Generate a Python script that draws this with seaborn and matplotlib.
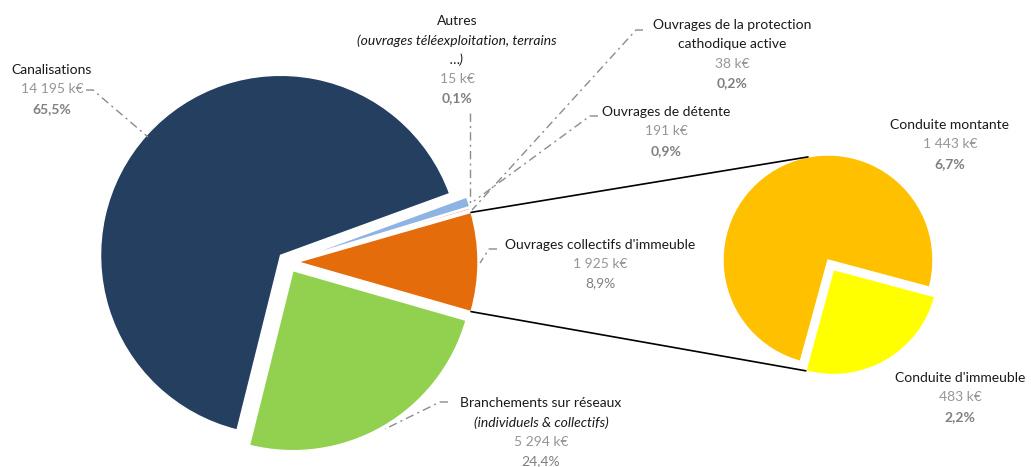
import numpy as np
import matplotlib
matplotlib.use("Agg")
import matplotlib.pyplot as plt
import seaborn as sns

# ---------------- data ----------------
main_names = ["Ouvrages collectifs d'immeuble",
              "Ouvrages de la protection\ncathodique active",
              "Autres",
              "Ouvrages de détente",
              "Canalisations",
              "Branchements sur réseaux"]
main_subtitles = ["", "", "(ouvrages téléexploitation, terrains\n…)", "", "",
                  "(individuels & collectifs)"]
main_values = [1925, 38, 15, 191, 14195, 5294]          # k€
sub_names = ["Conduite montante", "Conduite d'immeuble"]
sub_values = [1443, 483]                                  # k€

# ---------------- style / layout ----------------
main_colors = ["#E46C0A", "#FF7C80", "#D9D9D9", "#8EB4E3", "#243F60", "#92D050"]
sub_colors = ["#FFC000", "#FFFF00"]

sns.set_theme(style="white")
plt.rcParams["font.family"] = ["Lato", "DejaVu Sans"]

W, H = 1031, 467
fig = plt.figure(figsize=(W / 100, H / 100), dpi=100)
ax = fig.add_axes([0, 0, 1, 1])


def Y(y):
    return H - y


total = sum(main_values)
main_center = (288, Y(262))
main_r = 180
sub_center = (828, Y(260))
sub_r = 105

start_main = -360 * main_values[0] / total / 2
wedges, _ = ax.pie(main_values, colors=main_colors, radius=main_r, center=main_center,
                   startangle=start_main, counterclock=True,
                   explode=[10] * len(main_values),
                   wedgeprops=dict(edgecolor="white", linewidth=1.0), frame=False)

sub_wedges, _ = ax.pie(sub_values, colors=sub_colors, radius=sub_r, center=sub_center,
                       startangle=-15, counterclock=True, explode=[0, 11],
                       wedgeprops=dict(edgecolor="white", linewidth=1.0), frame=False)

ax.set_xlim(0, W)
ax.set_ylim(0, H)
ax.set_aspect("equal")
ax.axis("off")

# connector lines between the orange slice and the second pie
ow = wedges[0]
ocx, ocy = ow.center
t1, t2 = np.deg2rad(ow.theta1), np.deg2rad(ow.theta2)
p_top = (ocx + main_r * np.cos(t2), ocy + main_r * np.sin(t2))
p_bot = (ocx + main_r * np.cos(t1), ocy + main_r * np.sin(t1))
scx, scy = sub_center
a_top = np.deg2rad(101)
q_top = (scx + sub_r * np.cos(a_top), scy + sub_r * np.sin(a_top))
yw = sub_wedges[1]
a_bot = np.deg2rad(yw.theta1)
q_bot = (yw.center[0] + sub_r * np.cos(a_bot), yw.center[1] + sub_r * np.sin(a_bot))
ax.plot([p_top[0], q_top[0]], [p_top[1], q_top[1]], color="black", lw=1.2, zorder=1)
ax.plot([p_bot[0], q_bot[0]], [p_bot[1], q_bot[1]], color="black", lw=1.2, zorder=1)


def fmt_val(v):
    return f"{v:,}".replace(",", " ") + " k€"


def fmt_pct(v):
    return f"{100 * v / total:.1f}".replace(".", ",") + "%"


FS = 10
LS = 19.3
NAME_C = "#1A1A1A"
VAL_C = "#969696"
PCT_C = "#808080"


def label_block(x, y0, name, subtitle, value, pct_bold):
    lines = []
    for ln in name.split("\n"):
        lines.append((ln, dict(color=NAME_C)))
    if subtitle:
        for ln in subtitle.split("\n"):
            lines.append((ln, dict(color=NAME_C, style="italic")))
    lines.append((fmt_val(value), dict(color=VAL_C)))
    lines.append((fmt_pct(value), dict(color=PCT_C, weight="bold" if pct_bold else "normal")))
    for i, (txt, kw) in enumerate(lines):
        ax.text(x, Y(y0 + i * LS), txt, ha="center", va="center", fontsize=FS, **kw)


# label placement (image pixel coords of first line centre)
main_label_pos = [(600, 245), (732, 25), (457, 21), (666, 112), (52, 70), (541, 403)]
main_pct_bold = [False, True, True, True, True, False]
for i in range(len(main_values)):
    x, y = main_label_pos[i]
    label_block(x, y, main_names[i], main_subtitles[i], main_values[i], main_pct_bold[i])

sub_label_pos = [(950, 125), (960, 378)]
for i in range(len(sub_values)):
    x, y = sub_label_pos[i]
    label_block(x, y, sub_names[i], "", sub_values[i], True)

# leader lines
leaders = [
    [(497, 249), (489, 249), (480, 263)],
    [(643, 30), (636, 30), (472, 210)],
    [(470, 113), (470, 203)],
    [(598, 116), (590, 116), (474, 201)],
    [(86, 90), (93, 90), (148, 137)],
    [(448, 402), (440, 402), (385, 429)],
]
for pts in leaders:
    xs = [p[0] for p in pts]
    ys = [Y(p[1]) for p in pts]
    ax.plot(xs, ys, color="#8C8C8C", lw=1.0, linestyle=(0, (6, 3, 1.5, 3)), zorder=3)

fig.savefig("out.png", dpi=100, facecolor="white")
